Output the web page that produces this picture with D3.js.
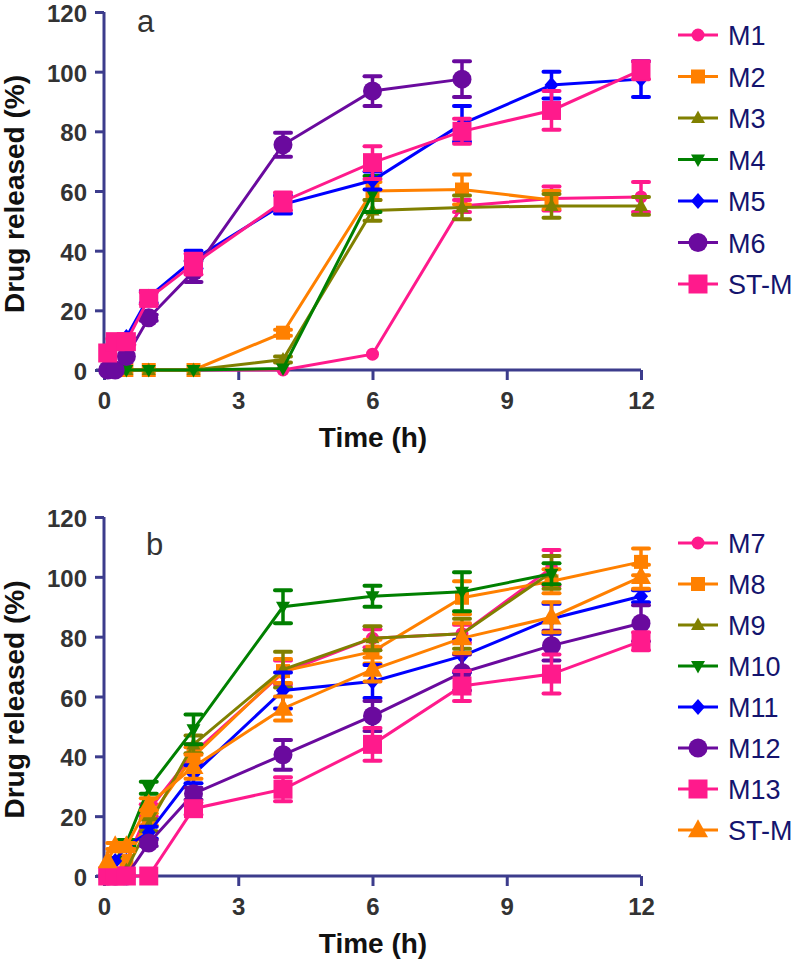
<!DOCTYPE html>
<html>
<head>
<meta charset="utf-8">
<script src="https://cdn.jsdelivr.net/npm/d3@7"></script>
<style>
  html, body { margin: 0; padding: 0; background: #fff; }
  svg { display: block; }
  text { font-family: "Liberation Sans", Arial, sans-serif; }
</style>
</head>
<body>
<svg id="chart" width="797" height="962"></svg>
<script>
// ---------- DATA ----------
const times = [0.083, 0.25, 0.5, 1, 2, 4, 6, 8, 10, 12];
const xTicks = [0, 3, 6, 9, 12];
const yTicks = [0, 20, 40, 60, 80, 100, 120];

// Panel a
const namesA = ["M1", "M2", "M3", "M4", "M5", "M6", "ST-M"];
const m1  = [null, null, 0, 0, 0, 0, 5.3, 55, 57.5, 58];
const m2  = [null, null, 0, 0, 0, 12.5, 60, 60.5, 57, null];
const m3  = [null, null, 0, 0, 0, 3.5, 53.5, 54.5, 55, 55];
const m4  = [null, null, 0, 0, 0, 0.5, 59, null, null, null];
const m5  = [5, 9, 11, 24.5, 37, 55.5, 63.5, 82.5, 95.5, 97.5];
const m6  = [0, 0, 4.5, 17.5, 33, 75.5, 93.5, 97.5, null, null];
const stmA = [5.7, 9.5, 9.5, 24, 35.5, 56.5, 69.5, 80, 87, 100.5];
const m1Err  = [0, 0, 0, 0, 0, 0, 0, 2, 4, 5];
const m2Err  = [0, 0, 0, 0, 0, 1, 3, 5, 3, 0];
const m3Err  = [0, 0, 0, 0, 0, 1, 3.5, 4, 4, 3];
const m4Err  = [0, 0, 0, 0, 0, 0, 6, 0, 0, 0];
const m5Err  = [0, 0, 0, 2, 3, 3, 3, 6, 4.5, 6];
const m6Err  = [0, 0, 0, 1, 3.5, 4, 5, 6, 0, 0];
const stmAErr = [0, 1, 1, 2, 3.5, 3, 5.5, 4.2, 6.5, 3];

// Panel b
const namesB = ["M7", "M8", "M9", "M10", "M11", "M12", "M13", "ST-M"];
const m7  = [0, 0, 5, 22, 41, 68, 79.5, 81, 103, null];
const m8  = [0, 0, 5, 19, 40, 68.5, 75, 93, 98.5, 105];
const m9  = [0, 0, 2, 17, 44, 69, 79.5, 81, 101.5, null];
const m10 = [0, 5, 11, 29.5, 49, 90, 93.5, 95, 101, null];
const m11 = [0, 5, 10, 14.5, 34, 62, 65, 73.5, 86, 93.5];
const m12 = [0, 0, 0, 11, 27.5, 40.5, 53.5, 68, 77, 84.5];
const m13 = [0, 0, 0, 0, 22.5, 29, 44, 63.5, 67.5, 78.5];
const stmB = [5, 10, 10, 24, 36.5, 56, 69, 79.5, 86.5, 100];
const m7Err  = [0, 0, 0, 2, 3, 4, 3, 3, 6, 0];
const m8Err  = [0, 0, 0, 2, 3, 4, 4, 5.5, 4, 4.5];
const m9Err  = [0, 0, 0, 2, 3, 6, 4, 5, 5.5, 0];
const m10Err = [0, 0, 1, 2, 5, 5.5, 3.5, 6.5, 3.5, 0];
const m11Err = [0, 0, 0, 2, 3, 6, 5.5, 5.5, 5, 2];
const m12Err = [0, 0, 0, 1, 2, 5, 5, 6, 5, 6];
const m13Err = [0, 0, 0, 0, 2, 4, 5.5, 5, 6.5, 3];
const stmBErr = [0, 1, 1, 2, 4, 4, 4, 5, 5, 4];

// ---------- STYLES ----------
const PINK = "#ff1a8c", ORANGE = "#ff8000", OLIVE = "#808000", GREEN = "#008000",
      BLUE = "#0000ff", PURPLE = "#6a0a9e";
const AXIS = "#3c3c8c";

const seriesA = [
  {name: namesA[0], v: m1, e: m1Err, color: PINK, shape: "circle", s: 6.5},
  {name: namesA[1], v: m2, e: m2Err, color: ORANGE, shape: "square", s: 14},
  {name: namesA[2], v: m3, e: m3Err, color: OLIVE, shape: "tri", s: 14},
  {name: namesA[3], v: m4, e: m4Err, color: GREEN, shape: "itri", s: 14},
  {name: namesA[4], v: m5, e: m5Err, color: BLUE, shape: "diamond", s: 14},
  {name: namesA[5], v: m6, e: m6Err, color: PURPLE, shape: "circle", s: 9.5},
  {name: namesA[6], v: stmA, e: stmAErr, color: PINK, shape: "square", s: 19}
];
const seriesB = [
  {name: namesB[0], v: m7, e: m7Err, color: PINK, shape: "circle", s: 6.5},
  {name: namesB[1], v: m8, e: m8Err, color: ORANGE, shape: "square", s: 14},
  {name: namesB[2], v: m9, e: m9Err, color: OLIVE, shape: "tri", s: 14},
  {name: namesB[3], v: m10, e: m10Err, color: GREEN, shape: "itri", s: 14},
  {name: namesB[4], v: m11, e: m11Err, color: BLUE, shape: "diamond", s: 14},
  {name: namesB[5], v: m12, e: m12Err, color: PURPLE, shape: "circle", s: 9.5},
  {name: namesB[6], v: m13, e: m13Err, color: PINK, shape: "square", s: 19},
  {name: namesB[7], v: stmB, e: stmBErr, color: ORANGE, shape: "tri", s: 20}
];

function shapePath(shape, s) {
  if (shape === "circle") return d3.symbol(d3.symbolCircle, Math.PI * s * s)();
  if (shape === "square") return `M${-s/2},${-s/2}h${s}v${s}h${-s}Z`;
  if (shape === "tri") { const h = s * 0.9; return `M0,${-h*0.6}L${s/2},${h*0.4}L${-s/2},${h*0.4}Z`; }
  if (shape === "itri") { const h = s * 0.9; return `M0,${h*0.6}L${s/2},${-h*0.4}L${-s/2},${-h*0.4}Z`; }
  if (shape === "diamond") { const w = s * 0.5, h = s * 0.58; return `M0,${-h}L${w},0L0,${h}L${-w},0Z`; }
}

const svg = d3.select("#chart");

function panel(cfg) {
  const {series, top, bottom, label, labelX, labelY, legendY, legendStep} = cfg;
  const x = d3.scaleLinear().domain([0, 12]).range([104, 641]);
  const y = d3.scaleLinear().domain([0, 120]).range([bottom, top]);
  const g = svg.append("g");

  // axes
  const ya = g.append("g").attr("transform", `translate(${x(0)},0)`)
    .call(d3.axisLeft(y).tickValues(yTicks).tickSize(9).tickPadding(8));
  const xa = g.append("g").attr("transform", `translate(0,${y(0)})`)
    .call(d3.axisBottom(x).tickValues(xTicks).tickSize(10).tickPadding(12));
  [ya, xa].forEach(a => {
    a.select(".domain").remove();
    a.selectAll(".tick line").attr("stroke", AXIS).attr("stroke-width", 3);
    a.selectAll(".tick text").attr("fill", "#333").attr("font-size", 24)
      .attr("font-weight", "bold").attr("font-family", "'Liberation Sans', Arial, sans-serif");
  });
  ya.selectAll(".tick text").attr("dy", "0.4em");
  g.append("line").attr("x1", x(0)).attr("x2", x(0)).attr("y1", y(120)).attr("y2", y(0))
    .attr("stroke", AXIS).attr("stroke-width", 3);
  g.append("line").attr("x1", x(-0.18)).attr("x2", x(12)).attr("y1", y(0)).attr("y2", y(0))
    .attr("stroke", AXIS).attr("stroke-width", 3);

  // axis titles
  g.append("text").attr("x", 373).attr("y", bottom + 77).attr("text-anchor", "middle")
    .attr("font-size", 28).attr("font-weight", "bold").attr("fill", "#111").text("Time (h)");
  g.append("text").attr("transform", `translate(24,${(top + bottom) / 2 + 3}) rotate(-90)`)
    .attr("text-anchor", "middle").attr("font-size", 28).attr("font-weight", "bold")
    .attr("fill", "#111").text("Drug released (%)");
  g.append("text").attr("x", labelX).attr("y", labelY).attr("font-size", 31)
    .attr("fill", "#333").text(label);

  // series
  series.forEach(s => {
    const pts = times.map((t, i) => ({t, v: s.v[i], e: s.e[i]})).filter(d => d.v !== null);
    const sg = g.append("g");
    sg.append("path").datum(pts)
      .attr("d", d3.line().x(d => x(d.t)).y(d => y(d.v)))
      .attr("fill", "none").attr("stroke", s.color).attr("stroke-width", 3);
    const eb = sg.selectAll("g.eb").data(pts.filter(d => d.e > 0)).join("g");
    eb.append("line").attr("x1", d => x(d.t)).attr("x2", d => x(d.t))
      .attr("y1", d => y(d.v + d.e)).attr("y2", d => y(d.v - d.e))
      .attr("stroke", s.color).attr("stroke-width", 3.5);
    [1, -1].forEach(sign => {
      eb.append("line").attr("x1", d => x(d.t) - 8).attr("x2", d => x(d.t) + 8)
        .attr("y1", d => y(d.v + sign * d.e)).attr("y2", d => y(d.v + sign * d.e))
        .attr("stroke", s.color).attr("stroke-width", 4).attr("stroke-linecap", "round");
    });
    sg.selectAll("path.mk").data(pts).join("path").attr("class", "mk")
      .attr("transform", d => `translate(${x(d.t)},${y(d.v)})`)
      .attr("d", shapePath(s.shape, s.s)).attr("fill", s.color);
  });

  // legend
  series.forEach((s, i) => {
    const ly = legendY + i * legendStep;
    const lg = g.append("g").attr("transform", `translate(0,${ly})`);
    lg.append("line").attr("x1", 678).attr("x2", 718).attr("y1", 0).attr("y2", 0)
      .attr("stroke", s.color).attr("stroke-width", 3);
    lg.append("path").attr("transform", "translate(698,0)").attr("d", shapePath(s.shape, s.s)).attr("fill", s.color);
    lg.append("text").attr("x", 728).attr("y", 0).attr("dy", "0.37em")
      .attr("font-size", 27).attr("fill", "#14146e").text(s.name);
  });
}

panel({series: seriesA, top: 12, bottom: 370, label: "a", labelX: 137, labelY: 32, legendY: 35, legendStep: 41.5});
panel({series: seriesB, top: 517, bottom: 876, label: "b", labelX: 146, labelY: 555, legendY: 543, legendStep: 41});
</script>
</body>
</html>
